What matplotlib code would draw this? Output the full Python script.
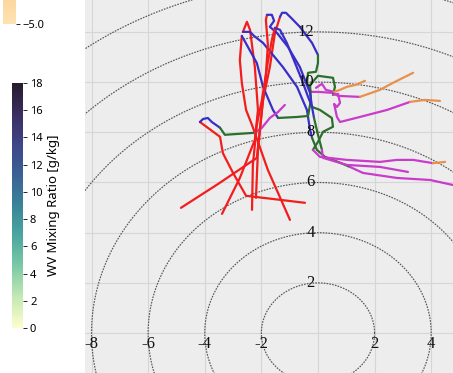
import numpy as np
import matplotlib
matplotlib.use("Agg")
import matplotlib.pyplot as plt
from matplotlib.colors import LinearSegmentedColormap, Normalize
from matplotlib.cm import ScalarMappable
from matplotlib.ticker import FuncFormatter

# Layer colours, lowest layer first
LAYER_COLORS = ["#f21d1d", "#3a2ec8", "#2a6f2c", "#c93ccb", "#e8904c"]

# Hodograph wind components (u, v in m/s); n_* = new points in each layer
u_a = [-4.84, -3.53, -2.16, -1.94, -1.70, -1.52, -1.34, -1.27, -1.13, -0.95, -0.64, -0.21, 0.00,
       0.00, -0.07, -0.35, -0.39, -0.25, 0.00, 0.53, 0.71, 1.48, 2.19, 2.65, 3.36]
v_a = [4.99, 5.94, 6.98, 9.29, 10.60, 11.96, 12.60, 12.76, 12.76, 12.56, 12.20, 11.56, 11.08,
       10.76, 10.41, 10.37, 9.97, 9.61, 9.61, 9.57, 9.45, 9.41, 9.69, 9.97, 10.37]
n_a = [7, 6, 5, 4, 3]

u_b = [-3.39, -2.76, -2.23, -2.12, -2.23, -2.40, -2.51, -2.65, -2.40, -2.26, -1.94, -1.24, -0.74,
       -0.39, -0.28, -0.21, -0.04, 0.25, 0.71, 1.13, 1.59, 2.79, 3.96, 4.77]
v_b = [4.75, 6.18, 7.70, 8.89, 10.60, 12.08, 12.40, 12.00, 12.00, 11.84, 11.56, 10.60, 9.81,
       8.89, 8.10, 7.78, 7.30, 7.02, 6.82, 6.62, 6.38, 6.18, 6.10, 5.90]
n_b = [8, 8, 4, 4, 0]

u_c = [-0.99, -1.77, -2.33, -2.54, -2.69, -2.76, -2.69, -2.16, -1.94, -1.59, -1.41, -0.74, -0.35,
       -0.25, -0.28, 0.00, 0.53, 0.60, 0.53, 0.71, 0.78, 0.67, 0.57, 0.67, 0.78, 1.48, 2.44, 3.25,
       3.78, 4.31]
v_c = [4.51, 6.50, 8.29, 8.89, 9.97, 10.88, 11.84, 10.76, 9.81, 8.89, 8.57, 8.61, 8.65, 9.29,
       9.89, 10.25, 10.17, 9.81, 9.49, 9.53, 9.17, 9.01, 9.13, 8.61, 8.41, 8.61, 8.89, 9.21,
       9.29, 9.25]
n_c = [7, 4, 8, 9, 2]

u_d = [-0.46, -2.54, -3.00, -3.36, -3.46, -4.17, -4.06, -3.89, -3.75, -3.46, -3.29, -2.23,
       -1.98, -1.70, -1.41, -1.17]
v_d = [5.19, 5.47, 6.38, 7.17, 7.82, 8.41, 8.53, 8.57, 8.41, 8.18, 7.90, 7.98, 8.18, 8.57,
       8.81, 9.09]
n_d = [6, 4, 2, 4, 0]

u_e = [-2.19, -2.12, -1.98, -1.84, -1.77, -1.84, -1.80, -1.63, -1.55, -1.70, -1.45, -1.06, -0.64,
       -0.28, -0.21, 0.07, 0.49, 0.53, 0.18, 0.00, -0.18, 0.07, 1.02, 2.19, 2.79, 3.36, 4.06, 4.49]
v_e = [5.39, 7.30, 8.89, 10.29, 11.48, 12.48, 12.68, 12.68, 12.44, 12.20, 11.96, 11.40, 10.60,
       9.57, 9.01, 8.89, 8.57, 8.22, 8.02, 7.62, 7.30, 7.02, 6.90, 6.82, 6.90, 6.90, 6.77, 6.82]
n_e = [7, 8, 6, 6, 1]

u_f = [-2.33, -2.30, -2.16, -1.98, -1.77, -1.63, -1.52, -1.34, -1.10, -0.81, -0.57, -0.35, -0.21,
       -0.14, 0.00, 0.14, 0.18, 1.02, 2.19, 3.18]
v_f = [4.91, 6.70, 8.29, 9.29, 10.80, 11.68, 12.16, 12.08, 11.56, 10.76, 10.09, 9.41, 9.01,
       8.57, 7.90, 7.30, 6.98, 6.70, 6.62, 6.42]
n_f = [7, 7, 2, 4, 0]

u_g = [-0.07, 0.14, 0.28, 0.57, 0.78, 1.02, 1.34, 1.66]
v_g = [9.77, 9.93, 9.69, 9.61, 9.69, 9.81, 9.89, 10.05]
n_g = [0, 0, 0, 4, 4]

RING_RADII = [2, 4, 6, 8, 10, 12, 14, 16]
U_RING_LABELS = [-8, -6, -4, -2, 2, 4]
V_RING_LABELS = [2, 4, 6, 8, 10, 12]
WV_TICKS = list(range(0, 19, 2))

# Colour map for the mixing-ratio bar
deep = LinearSegmentedColormap.from_list(
    "deep_like",
    ["#fdfecc", "#c4e8b4", "#7ccaa6", "#4ba79f", "#3a8399", "#3b6195",
     "#3f4588", "#3a2d5f", "#281a2c"])
peach = LinearSegmentedColormap.from_list("peach", ["#fde2b2", "#f9b66a", "#ee8a3a"])


def draw_profile(ax, u, v, counts):
    start = 0
    for color, n in zip(LAYER_COLORS, counts):
        if n == 0:
            continue
        lo = start - 1 if start > 0 else 0
        hi = start + n
        ax.plot(u[lo:hi], v[lo:hi], color=color, lw=1.6,
                solid_joinstyle="round", solid_capstyle="round", zorder=3)
        start = hi


fig = plt.figure(figsize=(4.53, 3.73), dpi=100)

ax = fig.add_axes([85 / 453, 0, 368 / 453, 1])
ax.set_facecolor("#ededed")
ax.set_xlim(-8.23, 4.77)
ax.set_ylim(-1.59, 13.27)
ax.set_xticks(np.arange(-8, 5, 2))
ax.set_yticks(np.arange(0, 14, 2))
ax.grid(True, color="#d6d6d6", lw=0.8)
ax.tick_params(length=0, labelbottom=False, labelleft=False)
for s in ax.spines.values():
    s.set_visible(False)

theta = np.linspace(0, 2 * np.pi, 600)
for r in RING_RADII:
    ax.plot(r * np.cos(theta), r * np.sin(theta), color="#555555", lw=0.85,
            ls=(0, (1.4, 1.0)), zorder=2)

for r in V_RING_LABELS:
    ax.text(-0.12, r, str(r), ha="right", va="center", fontsize=12,
            family="Liberation Serif", color="#111111", zorder=4)
for r in U_RING_LABELS:
    ax.text(r, -0.12, str(r), ha="center", va="top", fontsize=12,
            family="Liberation Serif", color="#111111", zorder=4)

for u, v, n in [(u_a, v_a, n_a), (u_b, v_b, n_b), (u_c, v_c, n_c), (u_d, v_d, n_d),
                (u_e, v_e, n_e), (u_f, v_f, n_f), (u_g, v_g, n_g)]:
    draw_profile(ax, u, v, n)

# Water-vapour mixing ratio colour bar
cax = fig.add_axes([12 / 453, 45 / 373, 11 / 453, 245 / 373])
cb = fig.colorbar(ScalarMappable(Normalize(0, 18), deep), cax=cax, ticks=WV_TICKS)
cb.outline.set_visible(False)
cb.ax.tick_params(labelsize=8, length=3, width=0.6, pad=2)
for t in cb.ax.get_yticklabels():
    t.set_family("Noto Sans")
cb.set_label("WV Mixing Ratio [g/kg]", fontsize=9.5, family="Noto Sans", labelpad=3)

# Upper colour bar, only its low end in view
cax2 = fig.add_axes([3 / 453, 349 / 373, 13 / 453, 0.5])
cb2 = fig.colorbar(ScalarMappable(Normalize(-5, 5), peach), cax=cax2, ticks=[-5.0],
                   format=FuncFormatter(lambda x, p: f"{x:.1f}".replace("-", "\u2212")))
cb2.outline.set_visible(False)
cb2.ax.tick_params(labelsize=8, length=3, width=0.6, pad=2)
for t in cb2.ax.get_yticklabels():
    t.set_family("Noto Sans")

fig.savefig("out.png", dpi=100)
